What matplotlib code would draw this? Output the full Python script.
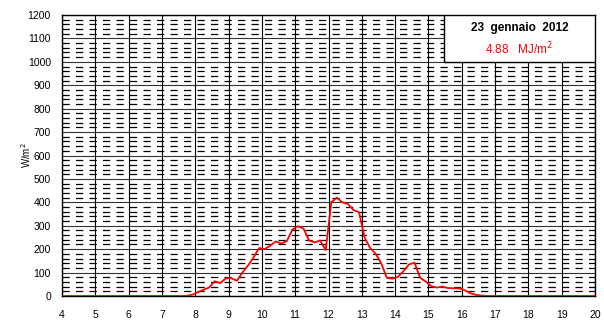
import matplotlib
matplotlib.use("Agg")
import matplotlib.pyplot as plt
from matplotlib.patches import Rectangle

plt.rcParams["font.family"] = ["Liberation Sans", "DejaVu Sans"]

# solar irradiance, 10-minute readings (hour of day, W/m2)
hours = [4.0, 7.583, 7.75, 7.917, 8.083, 8.25, 8.417, 8.583, 8.75, 8.917,
         9.083, 9.25, 9.417, 9.583, 9.75, 9.917, 10.083, 10.25, 10.417, 10.583,
         10.75, 10.917, 11.083, 11.25, 11.417, 11.583, 11.75, 11.917, 12.083, 12.25,
         12.417, 12.583, 12.75, 12.917, 13.083, 13.25, 13.417, 13.583, 13.75, 13.917,
         14.083, 14.25, 14.417, 14.583, 14.75, 14.917, 15.083, 15.25, 15.417, 15.583,
         15.75, 15.917, 16.083, 16.25, 16.417, 16.583, 16.75, 20.0]
irradiance = [0, 0, 1, 6, 16, 27, 36, 63, 55, 75,
              76, 65, 100, 130, 165, 205, 200, 215, 233, 224,
              235, 284, 298, 288, 237, 229, 237, 196, 400, 420,
              400, 393, 367, 358, 250, 205, 180, 140, 78, 74,
              82, 106, 135, 142, 78, 62, 42, 36, 40, 34,
              33, 33, 25, 12, 5, 2, 0, 0]

x_ticks = list(range(4, 21))
y_ticks = list(range(0, 1201, 100))
y_minor = [v for v in range(0, 1201, 20) if v % 100]

day_label = "23  gennaio  2012"
energy_label = "4.88   MJ/m$^2$"

fig = plt.figure(figsize=(6.04, 3.2), dpi=100)
ax = fig.add_axes([62 / 604, 24 / 320, 533 / 604, 281 / 320])

# dashed minor lines every 20 W/m2, solid lines every 100 and every hour
for v in y_minor:
    ax.axhline(v, color="black", lw=0.9, dashes=(5.8, 5.0), zorder=1)
for v in y_ticks:
    ax.axhline(v, color="#333333", lw=0.8, zorder=1)
for h in x_ticks:
    ax.axvline(h, color="black", lw=0.8, zorder=1)

ax.plot(hours, irradiance, color="red", lw=1.3, zorder=3)

ax.set_xlim(4, 20)
ax.set_ylim(0, 1200)
ax.set_xticks(x_ticks)
ax.set_yticks(y_ticks)
ax.tick_params(length=0, labelsize=7.5)
ax.tick_params(axis="x", pad=10)
ax.tick_params(axis="y", pad=8)
for s in ax.spines.values():
    s.set_color("black")
    s.set_linewidth(1.0)

ax.set_ylabel("W/m$^2$", fontsize=7)
ax.yaxis.set_label_coords(-0.055, 0.5)

# daily total box in the top-right corner
ax.add_patch(Rectangle((0.717, 0.833), 0.283, 0.167, transform=ax.transAxes,
                       facecolor="white", edgecolor="black", lw=1.0, zorder=5))
ax.text(0.858, 0.955, day_label, transform=ax.transAxes, ha="center", va="center",
        fontsize=8.5, fontweight="bold", zorder=6)
ax.text(0.858, 0.878, energy_label, transform=ax.transAxes, ha="center", va="center",
        fontsize=8.5, color="red", zorder=6)

fig.savefig("out.png", dpi=100, facecolor="white")
